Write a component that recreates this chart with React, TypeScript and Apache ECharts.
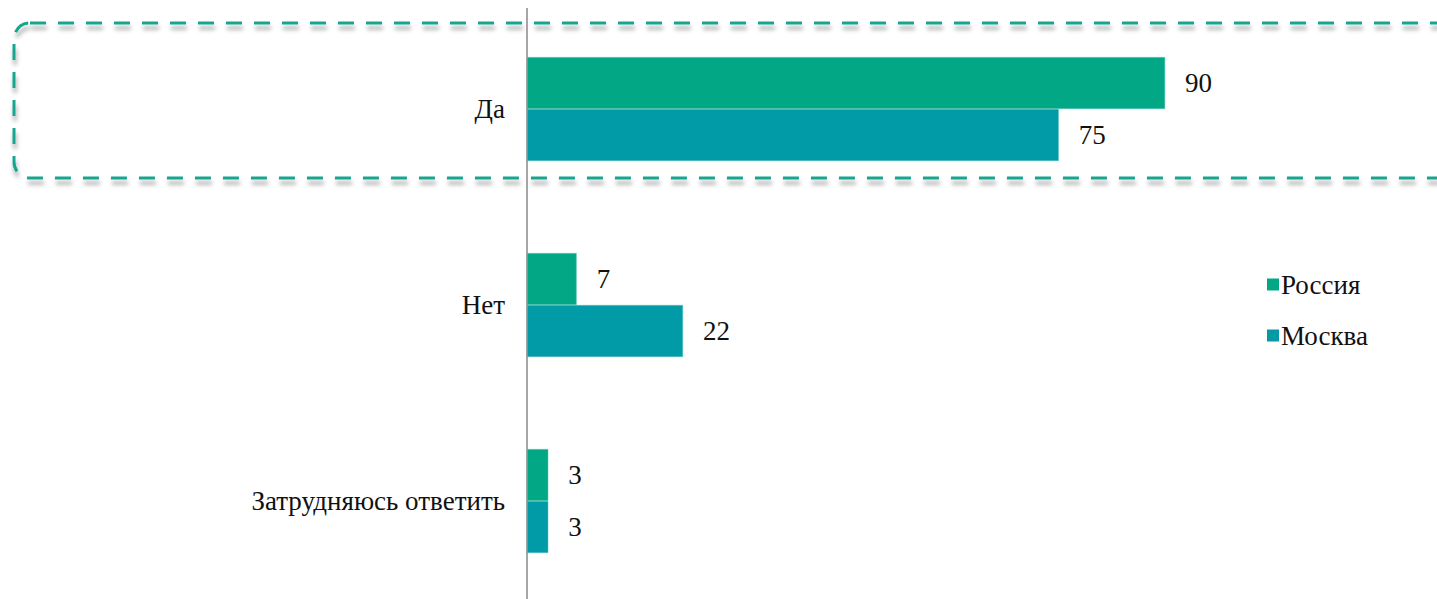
import React, { useEffect, useRef } from "react";
import * as echarts from "echarts";

const categories = ["Да", "Нет", "Затрудняюсь ответить"];
const seriesNames = ["Россия", "Москва"];
const russia = [90, 7, 3];
const moscow = [75, 22, 3];

export default function App() {
  const ref = useRef<HTMLDivElement>(null);
  useEffect(() => {
    if (!ref.current) return;
    const chart = echarts.init(ref.current, null, { renderer: "svg" });
    const font = '"Liberation Serif", "Times New Roman", serif';
    const fs = 27;
    chart.setOption({
      animation: false,
      textStyle: { fontFamily: font },
      grid: { left: 527, top: 11, width: 709, height: 594, containLabel: false },
      xAxis: {
        type: "value",
        min: 0,
        max: 100,
        show: false,
      },
      yAxis: {
        type: "category",
        data: categories,
        inverse: true,
        axisLine: { show: true, lineStyle: { color: "#a6a6a6", width: 2 } },
        axisTick: { show: false },
        axisLabel: { color: "#111", fontSize: fs, fontFamily: font, margin: 22 },
        splitLine: { show: false },
      },
      graphic: [
        {
          type: "line",
          shape: { x1: 527, y1: 8, x2: 527, y2: 12 },
          style: { stroke: "#a6a6a6", lineWidth: 2 },
        },
        {
          type: "rect",
          shape: { x: 14, y: 23, width: 1450, height: 155, r: 16 },
          style: {
            fill: "none",
            stroke: "#14a68f",
            lineWidth: 3,
            lineDash: [16, 12],
            shadowBlur: 4,
            shadowColor: "rgba(0,0,0,0.35)",
            shadowOffsetY: 5,
            shadowOffsetX: 1,
          },
          z: 10,
        },
      ],
      legend: {
        orient: "vertical",
        left: 1262,
        top: 266,
        itemWidth: 12,
        itemHeight: 12,
        itemGap: 24,
        icon: "rect",
        itemStyle: { borderWidth: 0 },
        textStyle: { fontSize: fs, color: "#111", fontFamily: font, padding: [0, 0, 0, -3] },
        data: seriesNames,
      },
      series: [
        {
          name: seriesNames[0],
          type: "bar",
          data: russia,
          barGap: "0%",
          barCategoryGap: "47%",
          itemStyle: { color: "#02a886", borderColor: "#5fc9b2", borderWidth: 0.5 },
          label: { show: true, position: "right", distance: 20, fontSize: fs, color: "#111", fontFamily: font },
        },
        {
          name: seriesNames[1],
          type: "bar",
          data: moscow,
          barGap: "0%",
          barCategoryGap: "47%",
          itemStyle: { color: "#009ba7", borderColor: "#5cc3cb", borderWidth: 0.5 },
          label: { show: true, position: "right", distance: 20, fontSize: fs, color: "#111", fontFamily: font },
        },
      ],
    });
    return () => chart.dispose();
  }, []);
  return (
    <div
      ref={ref}
      style={{ position: "fixed", left: 0, top: 0, width: 1437, height: 599, background: "#fff" }}
    />
  );
}
